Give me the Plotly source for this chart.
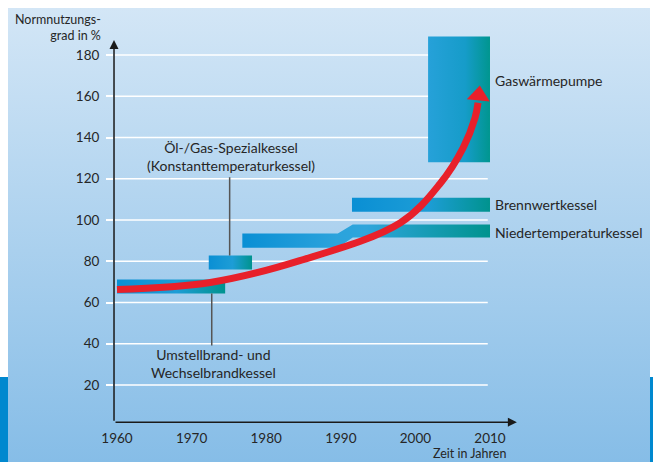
import base64
import plotly.graph_objects as go

# ---------------- data ----------------
years_ticks = [1960, 1970, 1980, 1990, 2000, 2010]
value_ticks = [20, 40, 60, 80, 100, 120, 140, 160, 180]

# simple rectangular bars (start year, end year, lower %, upper %)
bar_names = ["Umstellbrand", "Spezialkessel", "Brennwertkessel", "Gaswärmepumpe"]
bar_start = [1960, 1972.3, 1991.5, 2001.7]
bar_end = [1974.5, 1978.1, 2010, 2010]
bar_low = [64.4, 76.0, 104.0, 128.0]
bar_high = [71.2, 82.8, 110.8, 189.0]

# Niedertemperaturkessel band with a step
nt_years = [1976.8, 1989.6, 1991.6, 2010]
nt_low = [86.6, 86.6, 91.5, 91.5]
nt_high = [93.4, 93.4, 97.8, 97.8]

# red trend arrow
trend_years = [1960, 1972.5, 1984.5, 1998, 2003.3, 2006.4, 2008, 2008.4]
trend_vals = [66.3, 69.7, 80.3, 98.7, 117.6, 135, 149.6, 156.8]
tip_year, tip_val = 2008.5, 160.4

# labels
right_labels = ["Gaswärmepumpe", "Brennwertkessel", "Niedertemperaturkessel"]
right_label_y = [167.5, 107.4, 93.9]
right_label_x = 2010.4

# ---------------- geometry helpers ----------------
W, H = 653, 462
PX_PER_YEAR = 7.46
X0_PX = 117 - (1960 - 1959.6) * PX_PER_YEAR
X_RANGE = [1959.6, 2013.6]
PX_PER_UNIT = 2.0625
ZERO_PX = 426.25
Y_RANGE = [2.0, 192.0]
y_bottom_px = ZERO_PX - Y_RANGE[0] * PX_PER_UNIT
y_top_px = ZERO_PX - Y_RANGE[1] * PX_PER_UNIT
x_right_px = X0_PX + (X_RANGE[1] - X_RANGE[0]) * PX_PER_YEAR

FONT = "Lato"
TXT = "#262626"
LBL = 14

fig = go.Figure()

bar_grad = dict(type="horizontal", colorscale=[[0, "#0a8fd4"], [0.55, "#1d9dd6"], [1, "#00938e"]])
gwp_grad = dict(type="horizontal", colorscale=[[0, "#26a1d9"], [0.6, "#169cc9"], [1, "#00968f"]])

for name, s, e, lo, hi in zip(bar_names, bar_start, bar_end, bar_low, bar_high):
    fig.add_trace(go.Scatter(
        x=[s, e, e, s, s], y=[lo, lo, hi, hi, lo], mode="lines", fill="toself",
        line=dict(width=0, color="rgba(0,0,0,0)"),
        fillgradient=gwp_grad if name == "Gaswärmepumpe" else bar_grad,
        hoverinfo="skip", showlegend=False))

fig.add_trace(go.Scatter(
    x=nt_years + nt_years[::-1] + [nt_years[0]],
    y=nt_high + nt_low[::-1] + [nt_high[0]],
    mode="lines", fill="toself", line=dict(width=0, color="rgba(0,0,0,0)"),
    fillgradient=dict(type="horizontal",
                      colorscale=[[0, "#0a8fd4"], [0.38, "#2ba3dc"], [0.5, "#2ea5dc"], [1, "#00938e"]]),
    hoverinfo="skip", showlegend=False))

# connectors
fig.add_trace(go.Scatter(x=[1975.1, 1975.1], y=[120.7, bar_high[1]], mode="lines",
                         line=dict(color="#555555", width=1.5), hoverinfo="skip", showlegend=False))
fig.add_trace(go.Scatter(x=[1972.7, 1972.7], y=[bar_low[0], 39.2], mode="lines",
                         line=dict(color="#555555", width=1.5), hoverinfo="skip", showlegend=False))

# red trend arrow
fig.add_trace(go.Scatter(x=trend_years, y=trend_vals, mode="lines",
                         line=dict(color="#e8202a", width=7, shape="spline", smoothing=1.0),
                         hoverinfo="skip", showlegend=False))
fig.add_trace(go.Scatter(x=[tip_year], y=[tip_val], mode="markers",
                         marker=dict(symbol="triangle-up", size=20, color="#e8202a", angle=6,
                                     line=dict(width=0)),
                         hoverinfo="skip", showlegend=False))

# gridlines (white, end at 2010)
shapes = []
for v in value_ticks:
    shapes.append(dict(type="line", xref="x", yref="y", x0=X_RANGE[0], x1=2009.7, y0=v, y1=v,
                       line=dict(color="white", width=1.5), layer="below"))

# background image with gradient and stripes
svg = f'''<svg xmlns="http://www.w3.org/2000/svg" width="{W}" height="{H}" viewBox="0 0 {W} {H}" preserveAspectRatio="none">
<defs><linearGradient id="g" x1="0" y1="0" x2="0" y2="1">
<stop offset="0" stop-color="#d3e6f6"/><stop offset="1" stop-color="#86bde7"/></linearGradient></defs>
<rect x="0" y="0" width="{W}" height="{H}" fill="white"/>
<rect x="0" y="377" width="8" height="{H-377}" fill="#0088cf"/>
<rect x="650" y="377" width="3" height="{H-377}" fill="#0088cf"/>
<rect x="8" y="8" width="642" height="{H-8}" fill="url(#g)"/>
</svg>'''
src = "data:image/svg+xml;base64," + base64.b64encode(svg.encode()).decode()

annotations = []
# axis arrows
annotations.append(dict(x=X_RANGE[0], y=187.3, ax=X_RANGE[0], ay=Y_RANGE[0], xref="x", yref="y",
                        axref="x", ayref="y", text="", showarrow=True, arrowhead=2, arrowsize=1.2,
                        arrowwidth=1.5, arrowcolor="#1a1a1a", standoff=0, startstandoff=0))
annotations.append(dict(x=2013.6, y=Y_RANGE[0], ax=X_RANGE[0], ay=Y_RANGE[0], xref="x", yref="y",
                        axref="x", ayref="y", text="", showarrow=True, arrowhead=2, arrowsize=1.2,
                        arrowwidth=1.5, arrowcolor="#1a1a1a", standoff=0, startstandoff=0))
for t, yv in zip(right_labels, right_label_y):
    annotations.append(dict(x=right_label_x, y=yv, xref="x", yref="y", text=t, showarrow=False,
                            xanchor="left", yanchor="middle", font=dict(family=FONT, size=LBL, color=TXT)))
annotations.append(dict(x=1975.3, y=130.7, xref="x", yref="y",
                        text="Öl-/Gas-Spezialkessel<br>(Konstanttemperaturkessel)", showarrow=False,
                        xanchor="center", yanchor="middle", font=dict(family=FONT, size=LBL, color=TXT)))
annotations.append(dict(x=1972.9, y=30.3, xref="x", yref="y",
                        text="Umstellbrand- und<br>Wechselbrandkessel", showarrow=False,
                        xanchor="center", yanchor="middle", font=dict(family=FONT, size=LBL, color=TXT)))
annotations.append(dict(x=103 / W, y=1 - 28 / H, xref="paper", yref="paper",
                        text="Normnutzungs-<br>grad in %", showarrow=False, align="right",
                        xanchor="right", yanchor="middle", font=dict(family=FONT, size=12.5, color=TXT)))
annotations.append(dict(x=508 / W, y=1 - 453 / H, xref="paper", yref="paper",
                        text="Zeit in Jahren", showarrow=False,
                        xanchor="right", yanchor="middle", font=dict(family=FONT, size=12.5, color=TXT)))

fig.update_layout(
    width=W, height=H, margin=dict(l=0, r=0, t=0, b=0, pad=0, autoexpand=False),
    paper_bgcolor="white", plot_bgcolor="rgba(0,0,0,0)",
    showlegend=False, shapes=shapes, annotations=annotations,
    images=[dict(source=src, xref="paper", yref="paper", x=0, y=1, sizex=1, sizey=1,
                 sizing="stretch", layer="below", xanchor="left", yanchor="top")],
    xaxis=dict(domain=[X0_PX / W, x_right_px / W], range=X_RANGE, showgrid=False, zeroline=False,
               showline=False, tickvals=years_ticks, ticks="", ticklabelstandoff=6, automargin=False,
               tickfont=dict(family=FONT, size=13.5, color=TXT), fixedrange=True),
    yaxis=dict(domain=[(H - y_bottom_px) / H, (H - y_top_px) / H], range=Y_RANGE, showgrid=False,
               zeroline=False, showline=False, tickvals=value_ticks, ticks="outside", ticklen=7,
               tickcolor="white", tickwidth=1.5, ticklabelstandoff=4, automargin=False,
               tickfont=dict(family=FONT, size=13.5, color=TXT), fixedrange=True),
)

fig.write_html("out.html", config={"displayModeBar": False},
               post_script="document.body.style.margin='0';document.body.style.overflow='hidden';")
